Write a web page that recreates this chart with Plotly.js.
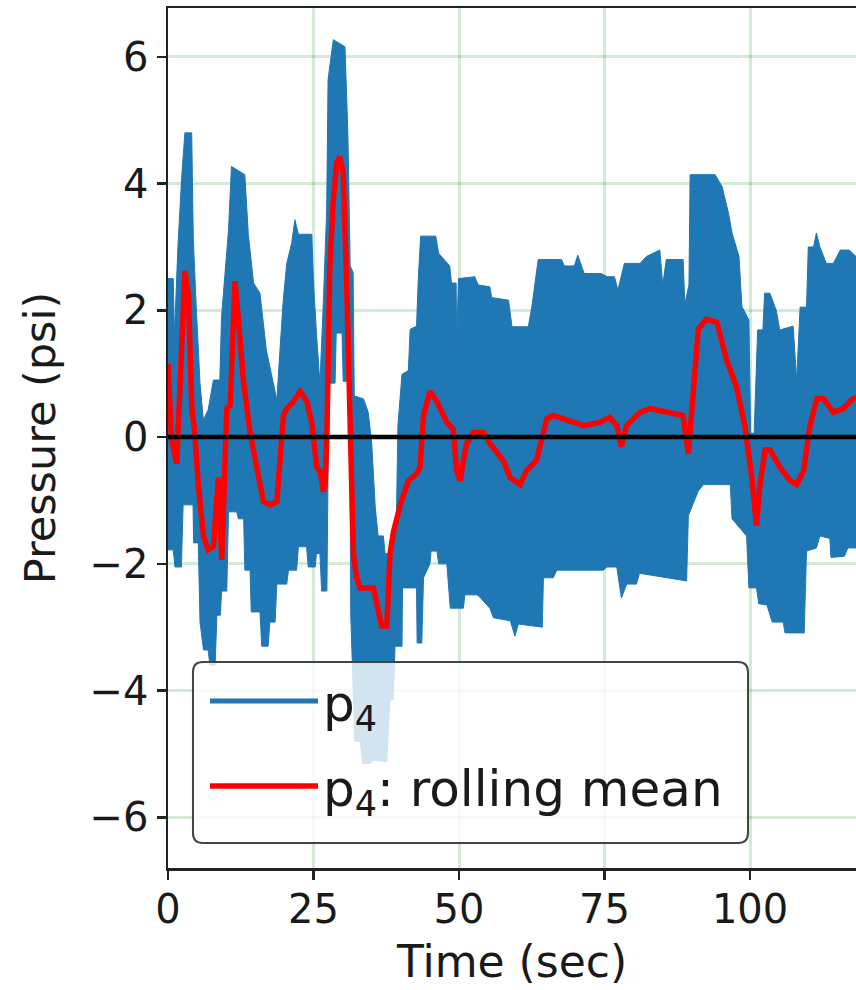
<!DOCTYPE html>
<html>
<head>
<meta charset="utf-8">
<script src="https://cdn.plot.ly/plotly-3.0.1.min.js"></script>
<style>html,body{margin:0;padding:0;background:#fff;}#chart{width:856px;height:990px;}</style>
</head>
<body>
<div id="chart"></div>
<script>
// ---- data ----
// upper envelope of the oscillating p4 signal (time in sec, psi)
const upperTime = [0,0.9,1.1,1.7,2.35,2.9,4.07,4.35,4.9,5.5,6.07,6.9,7.8,8.9,9.2,10.4,10.9,13.2,13.8,14.7,15.8,16.9,18.1,18.7,19.2,19.8,20.4,21.25,21.8,22.4,24.7,25.0,25.5,26.1,26.7,27.26,27.5,28.4,30.4,30.9,31.3,31.8,32.0,33.6,34.4,35.0,35.6,36.1,37.0,37.3,38.15,39.2,39.5,40.2,41.3,41.6,42.7,43.0,43.4,46.0,46.5,48.4,48.7,49.5,49.6,49.9,52.7,53.3,55.3,55.6,58.5,59.1,61.9,62.5,63.6,67.6,68.1,69.8,70.4,71.5,74.4,75.5,76.7,77.3,78.4,81.1,82.2,84.5,85.0,85.6,88.5,88.8,89.5,89.7,94.0,95.2,96.3,96.9,98.1,98.6,99.8,100.1,100.7,101.3,102.2,102.5,103.4,104.5,105.1,107.4,108.0,108.6,109.7,110.0,110.9,111.4,112.0,113.1,114.3,115.5,117.0,118.2];
const upperP4   = [2.5,2.5,1.6,3.0,4.1,4.8,4.8,3.1,1.96,0.85,0.27,0.43,0.9,0.9,1.9,3.27,4.27,4.14,3.2,2.43,2.27,1.37,0.85,0.58,1.32,2.16,2.74,3.06,3.43,3.2,3.2,2.43,1.64,0.85,2.16,3.58,5.64,6.27,6.16,4.8,2.7,2.6,0.65,0.6,0.39,-0.1,-1.1,-1.56,-1.56,-1.84,-1.84,-1.5,0.18,0.99,1.05,1.7,1.75,2.5,3.17,3.17,2.9,2.7,2.43,2.43,1.5,2.5,2.53,2.4,2.37,2.2,2.16,1.74,1.74,2.05,2.8,2.8,2.7,2.7,2.87,2.58,2.58,2.53,2.53,2.32,2.74,2.74,2.85,2.95,2.4,2.8,2.8,2.1,2.4,4.14,4.14,3.95,3.53,3.22,2.85,2.06,1.85,0.06,0.06,1.69,1.69,2.27,2.27,2.0,1.69,1.75,0.9,2.05,2.05,3.0,3.0,3.22,3.0,2.74,2.74,2.95,2.95,2.85];
// lower envelope of the oscillating p4 signal
const lowerTime = [0,0.9,1.2,2.3,2.6,4.3,4.4,5.2,5.5,6.1,6.9,7.2,8.1,8.4,9.0,9.2,10.1,10.4,11.8,12.1,13.0,13.2,14.1,14.3,15.8,16.1,17.2,17.5,18.4,18.7,20.4,20.7,22.1,22.4,23.8,24.1,25.3,25.5,26.1,26.4,27.3,27.5,27.8,28.7,28.9,29.9,30.1,31.2,31.4,32.1,33.0,33.5,34.7,35.3,37.6,38.1,38.7,39.0,40.2,40.3,42.7,42.8,43.6,43.9,45.0,45.2,46.2,46.5,47.9,48.5,50.75,51.0,53.0,53.3,55.3,55.9,58.8,59.6,60.2,64.3,64.5,66.2,66.8,74.8,75.4,77.1,77.9,78.8,80.5,81.0,89.1,89.4,91.1,92.0,96.6,96.9,99.4,99.8,101.1,101.5,102.9,103.8,105.7,106.0,109.3,109.7,111.4,112.0,113.7,113.9,116.2,116.8,118.2];
const lowerP4   = [-1.78,-1.78,-2.05,-2.05,-1.07,-1.07,-1.67,-1.67,-2.92,-3.36,-3.36,-3.6,-3.6,-2.81,-2.81,-2.43,-2.43,-1.18,-1.18,-1.29,-1.29,-2.1,-2.1,-2.76,-2.76,-3.3,-3.3,-2.92,-2.92,-2.32,-2.32,-2.1,-2.1,-1.73,-1.73,-2.05,-2.05,-1.84,-1.84,-2.43,-2.43,-0.5,0.85,0.85,1.64,1.64,0.88,0.88,-2.81,-4.8,-4.8,-5.15,-5.15,-5.1,-5.12,-4.15,-4.15,-3.3,-3.3,-2.38,-2.38,-3.25,-3.25,-2.22,-2.0,-1.8,-1.8,-2.0,-2.0,-2.7,-2.7,-2.49,-2.49,-2.5,-2.7,-2.85,-2.9,-3.14,-2.95,-3.0,-2.22,-2.22,-2.1,-2.1,-2.05,-2.05,-2.54,-2.32,-2.32,-2.15,-2.27,-1.24,-0.85,-0.75,-0.75,-1.29,-1.56,-2.38,-2.38,-2.63,-2.65,-2.92,-2.92,-3.09,-3.09,-1.8,-1.75,-1.56,-1.6,-1.9,-1.88,-1.75,-1.75];
// rolling mean of p4
const meanTime = [0,0.6,1.5,2.0,2.9,3.5,4.1,4.6,5.2,6.1,6.9,7.8,8.66,9.23,9.8,10.1,10.7,11.5,12.1,12.96,14.1,15.25,16.4,17.55,18.7,19.84,20.4,21.56,22.7,23.85,24.7,25.57,26.1,26.7,27.0,27.3,27.8,28.4,29.0,29.5,30.1,30.7,31.2,31.85,32.4,33.0,35.3,35.9,36.7,37.6,38.15,38.7,39.9,41.3,42.7,43.3,43.9,45.0,46.2,47.9,49.0,49.6,50.2,50.75,51.3,52.5,54.2,55.3,56.5,57.6,58.8,60.5,61.6,63.3,64.2,65.1,66.2,68.5,71.4,74.2,75.9,77.1,77.9,78.8,81.1,82.8,85.7,88.5,89.4,90.3,91.1,92.5,94.3,96.0,97.7,99.1,100.3,101.1,101.7,102.6,103.4,105.15,106.9,108.0,109.2,110.3,111.5,112.6,114.3,116.0,117.7,118.2];
const meanP4   = [1.16,-0.04,-0.42,0.88,2.62,2.24,0.45,0.07,-0.75,-1.56,-1.78,-1.73,-0.64,-1.94,-0.64,0.45,0.5,2.46,1.86,0.88,0.07,-0.48,-1.02,-1.07,-1.02,0.34,0.45,0.56,0.72,0.56,0.23,-0.48,-0.53,-0.86,-0.75,0.06,2.69,3.74,4.33,4.42,4.17,2.4,0.4,-1.84,-2.22,-2.38,-2.38,-2.65,-2.98,-2.98,-1.84,-1.51,-1.07,-0.69,-0.58,-0.48,0.34,0.72,0.56,0.23,0.12,-0.53,-0.69,-0.37,-0.1,0.07,0.07,-0.1,-0.26,-0.37,-0.64,-0.75,-0.53,-0.37,-0.04,0.29,0.34,0.26,0.18,0.23,0.31,0.18,-0.15,0.18,0.39,0.45,0.39,0.34,-0.26,0.88,1.7,1.86,1.81,1.21,0.78,0.18,-0.64,-1.4,-0.75,-0.2,-0.2,-0.48,-0.69,-0.75,-0.53,0.18,0.61,0.61,0.39,0.45,0.61,0.62];
const xTickVals = [0,25,50,75,100];
const yTickVals = [-6,-4,-2,0,2,4,6];
const seriesNames = ['p<sub>4</sub>', 'p<sub>4</sub>: rolling mean'];

// ---- styles ----
const BLUE = '#1f77b4', RED = '#ff0000';
const FONT = 'DejaVu Sans, sans-serif';
const TXT = '#1a1a1a';

const traces = [
  {x: upperTime, y: upperP4, type: 'scatter', mode: 'lines',
   line: {color: BLUE, width: 1}, showlegend: false, hoverinfo: 'skip'},
  {x: lowerTime, y: lowerP4, type: 'scatter', mode: 'lines', fill: 'tonexty',
   fillcolor: BLUE, line: {color: BLUE, width: 1}, showlegend: false, hoverinfo: 'skip'},
  {x: [null], y: [null], type: 'scatter', mode: 'lines', name: seriesNames[0],
   line: {color: BLUE, width: 5}, legendgroup: 'a'},
  {x: meanTime, y: meanP4, type: 'scatter', mode: 'lines', name: seriesNames[1],
   line: {color: RED, width: 5.5}, legendgroup: 'b'}
];

// legend frame (rounded, semi-transparent like matplotlib's), in paper units
const bx0 = 0.0363, bx1 = 0.8430, by0 = 0.0291, by1 = 0.2395;
const rx = 0.0145, ry = 0.0116;
const framePath = `M${bx0 + rx},${by1} L${bx1 - rx},${by1} Q${bx1},${by1} ${bx1},${by1 - ry} ` +
  `L${bx1},${by0 + ry} Q${bx1},${by0} ${bx1 - rx},${by0} L${bx0 + rx},${by0} ` +
  `Q${bx0},${by0} ${bx0},${by0 + ry} L${bx0},${by1 - ry} Q${bx0},${by1} ${bx0 + rx},${by1} Z`;

const layout = {
  width: 856, height: 990,
  margin: {l: 168, r: 0, t: 8, b: 122},
  paper_bgcolor: '#fff', plot_bgcolor: '#fff',
  font: {family: FONT, color: TXT, size: 40},
  xaxis: {
    range: [0, 118.2], tickvals: xTickVals, ticks: 'outside', ticklen: 9, tickwidth: 2.5,
    tickcolor: '#222', showline: true, linecolor: '#222', linewidth: 2.5, mirror: true,
    showgrid: true, gridcolor: 'rgba(0,128,0,0.17)', gridwidth: 3, zeroline: false,
    tickfont: {size: 40, family: FONT, color: TXT}, ticklabelstandoff: -5,
    title: {text: 'Time (sec)', font: {size: 44, family: FONT, color: TXT}, standoff: 16}
  },
  yaxis: {
    range: [-6.8, 6.77], tickvals: yTickVals, ticks: 'outside', ticklen: 9, tickwidth: 2.5,
    tickcolor: '#222', showline: true, linecolor: '#222', linewidth: 2.5, mirror: false,
    showgrid: true, gridcolor: 'rgba(0,128,0,0.17)', gridwidth: 3, zeroline: false,
    tickfont: {size: 40, family: FONT, color: TXT},
    title: {text: 'Pressure (psi)', font: {size: 43, family: FONT, color: TXT}, standoff: 21}
  },
  shapes: [
    {type: 'line', xref: 'paper', x0: 0, x1: 1, yref: 'y', y0: 0, y1: 0,
     line: {color: '#000', width: 4.5}, layer: 'above'},
    {type: 'path', xref: 'paper', yref: 'paper', path: framePath,
     fillcolor: 'rgba(255,255,255,0.8)', line: {color: '#444', width: 2}, layer: 'above'}
  ],
  legend: {
    x: 0.0538, y: 0.2395, xanchor: 'left', yanchor: 'top',
    bgcolor: 'rgba(0,0,0,0)', borderwidth: 0,
    font: {size: 50, family: FONT, color: TXT},
    traceorder: 'grouped', tracegroupgap: 17, itemwidth: 108
  },
  showlegend: true
};

Plotly.newPlot('chart', traces, layout, {staticPlot: true, displayModeBar: false});
</script>
</body>
</html>
